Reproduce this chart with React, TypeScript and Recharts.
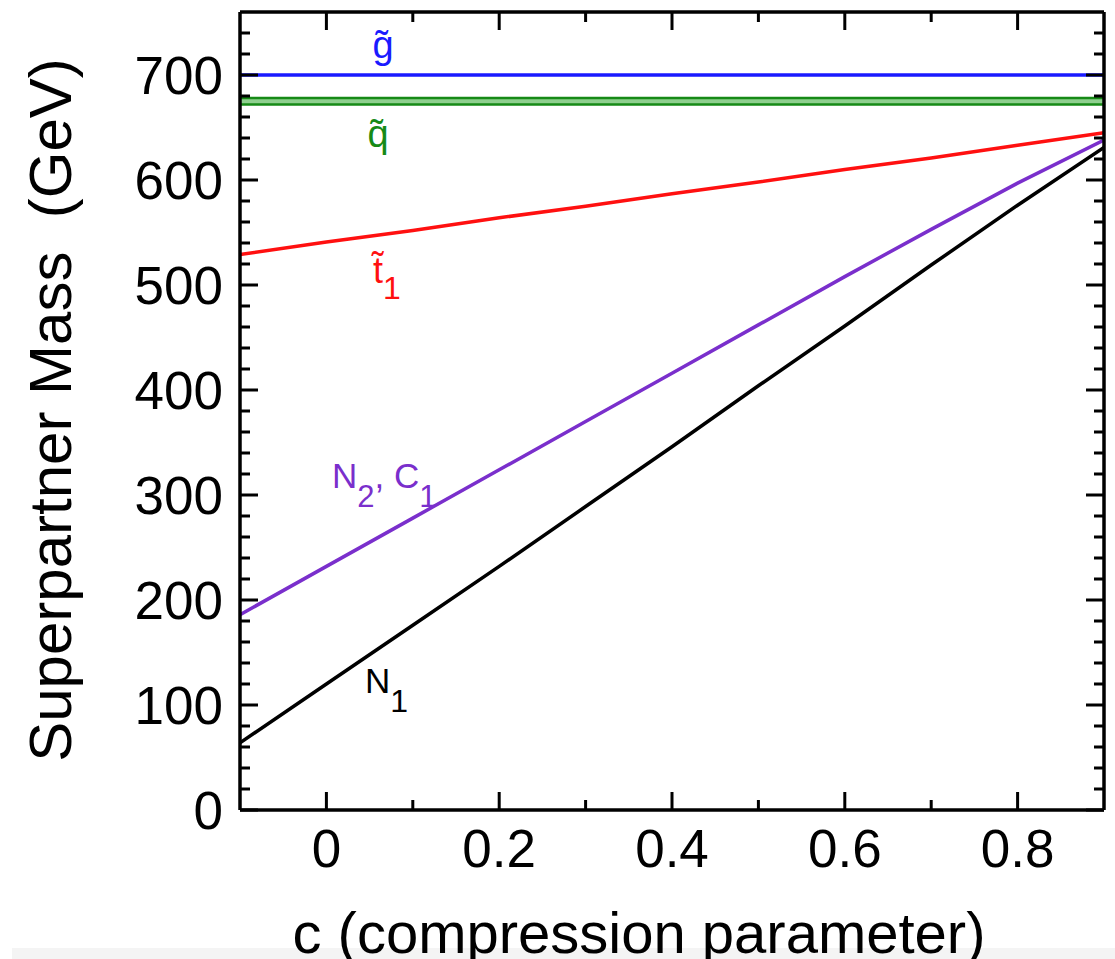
import { ComposedChart, Line, Area, XAxis, YAxis, ReferenceDot, Label } from "recharts";

// compression parameter c
const cValues = [-0.1, 0, 0.1, 0.2, 0.3, 0.4, 0.5, 0.6, 0.7, 0.8, 0.9];
// superpartner masses (GeV)
const gluino = [700, 700, 700, 700, 700, 700, 700, 700, 700, 700, 700];
const squarkLo = [672, 672, 672, 672, 672, 672, 672, 672, 672, 672, 672];
const squarkHi = [678, 678, 678, 678, 678, 678, 678, 678, 678, 678, 678];
const stop1 = [529, 541, 552, 564, 575, 587, 598, 610, 621, 633, 645];
const n2c1 = [186, 232, 278, 324, 370, 416, 462, 508, 553, 597, 638];
const n1 = [64, 120, 176, 232, 289, 346, 404, 461, 519, 576, 631];

const xMajor = [0, 0.2, 0.4, 0.6, 0.8];
const xMinor = [0.1, 0.3, 0.5, 0.7];
const yMajor = [0, 100, 200, 300, 400, 500, 600, 700];
const yMinor = [
  20, 40, 60, 80, 120, 140, 160, 180, 220, 240, 260, 280, 320, 340, 360, 380,
  420, 440, 460, 480, 520, 540, 560, 580, 620, 640, 660, 680, 720, 740,
];

// label anchors in data coordinates [c, mass]
const labelGluino = [0.0655, 716];
const labelSquark = [0.0597, 631];
const labelStop = [0.054, 502];
const labelN2C1 = [0.0065, 307];
const labelN1 = [0.0447, 111];

const data = cValues.map((c, i) => ({
  c,
  gluino: gluino[i],
  squark: [squarkLo[i], squarkHi[i]],
  squarkLo: squarkLo[i],
  squarkHi: squarkHi[i],
  stop1: stop1[i],
  n2c1: n2c1[i],
  n1: n1[i],
}));

const FONT = "'Liberation Sans', Arial, Helvetica, sans-serif";
const BLUE = "#1a1aff";
const GREEN = "#168a16";
const GREEN_FILL = "#8fd08f";
const RED = "#ff1010";
const PURPLE = "#7a2fcc";
const LW = 3.5;

const isIn = (arr: number[], v: number) => arr.some((m) => Math.abs(m - v) < 1e-9);

function XTick(props: any) {
  const { x, y, payload, side } = props;
  const major = isIn(xMajor, payload.value);
  const len = major ? 18 : 10;
  const dir = side === "bottom" ? -1 : 1;
  return (
    <g>
      <line x1={x} y1={y} x2={x} y2={y + dir * len} stroke="#000" strokeWidth={3} />
      {side === "bottom" && major && (
        <text x={x} y={y + 57} textAnchor="middle" fontSize={53} fontFamily={FONT} fill="#000">
          {String(payload.value)}
        </text>
      )}
    </g>
  );
}

function YTick(props: any) {
  const { x, y, payload, side } = props;
  const major = isIn(yMajor, payload.value);
  const len = major ? 18 : 10;
  const dir = side === "left" ? 1 : -1;
  return (
    <g>
      <line x1={x} y1={y} x2={x + dir * len} y2={y} stroke="#000" strokeWidth={3} />
      {side === "left" && major && (
        <text x={x - 17} y={y + 19} textAnchor="end" fontSize={53} fontFamily={FONT} fill="#000">
          {String(payload.value)}
        </text>
      )}
    </g>
  );
}

const xTicks = [...xMajor, ...xMinor].sort((a, b) => a - b);
const yTicks = [...yMajor, ...yMinor].sort((a, b) => a - b);

export default function App() {
  return (
    <div style={{ position: "absolute", left: 0, top: 0, width: 1115, height: 959, background: "#fff" }}>
      <div style={{ position: "absolute", left: 12, top: 948, width: 1103, height: 11, background: "#f4f4f4" }} />
      <ComposedChart
        width={1115}
        height={959}
        data={data}
        margin={{ top: 11, right: 10, bottom: 0, left: 0 }}
        style={{ position: "absolute", left: 0, top: 0 }}
      >
        <XAxis
          dataKey="c"
          type="number"
          domain={[-0.1, 0.9]}
          ticks={xTicks}
          interval={0}
          height={149}
          tickSize={0}
          tickMargin={0}
          tickLine={false}
          axisLine={{ stroke: "#000", strokeWidth: LW }}
          tick={(p: any) => <XTick {...p} side="bottom" />}
          allowDataOverflow
        >
          <Label
            content={() => (
              <text x={639} y={953} textAnchor="middle" fontSize={58} fontFamily={FONT} fill="#000">
                c (compression parameter)
              </text>
            )}
          />
        </XAxis>
        <XAxis
          xAxisId="top"
          orientation="top"
          dataKey="c"
          type="number"
          domain={[-0.1, 0.9]}
          ticks={xTicks}
          interval={0}
          height={1}
          tickSize={0}
          tickMargin={0}
          tickLine={false}
          axisLine={{ stroke: "#000", strokeWidth: LW }}
          tick={(p: any) => <XTick {...p} side="top" />}
          allowDataOverflow
        />
        <YAxis
          type="number"
          domain={[0, 760]}
          ticks={yTicks}
          interval={0}
          width={240}
          tickSize={0}
          tickMargin={0}
          tickLine={false}
          axisLine={{ stroke: "#000", strokeWidth: LW }}
          tick={(p: any) => <YTick {...p} side="left" />}
          allowDataOverflow
        >
          <Label
            content={() => (
              <text
                transform="translate(71,410) rotate(-90)"
                textAnchor="middle"
                fontSize={60}
                fontFamily={FONT}
                fill="#000"
                style={{ whiteSpace: "pre" }}
              >
                {"Superpartner Mass  (GeV)"}
              </text>
            )}
          />
        </YAxis>
        <YAxis
          yAxisId="right"
          orientation="right"
          type="number"
          domain={[0, 760]}
          ticks={yTicks}
          interval={0}
          width={1}
          tickSize={0}
          tickMargin={0}
          tickLine={false}
          axisLine={{ stroke: "#000", strokeWidth: LW }}
          tick={(p: any) => <YTick {...p} side="right" />}
          allowDataOverflow
        />

        <Area dataKey="squark" stroke="none" fill={GREEN_FILL} fillOpacity={1} isAnimationActive={false} />
        <Line dataKey="squarkLo" stroke={GREEN} strokeWidth={2.5} dot={false} isAnimationActive={false} />
        <Line dataKey="squarkHi" stroke={GREEN} strokeWidth={2.5} dot={false} isAnimationActive={false} />
        <Line dataKey="gluino" stroke={BLUE} strokeWidth={LW} dot={false} isAnimationActive={false} />
        <Line dataKey="stop1" stroke={RED} strokeWidth={LW} dot={false} isAnimationActive={false} />
        <Line dataKey="n2c1" stroke={PURPLE} strokeWidth={LW} dot={false} isAnimationActive={false} />
        <Line dataKey="n1" stroke="#000" strokeWidth={LW} dot={false} isAnimationActive={false} />

        <ReferenceDot
          x={labelGluino[0]}
          y={labelGluino[1]}
          r={0}
          ifOverflow="visible"
          shape={(p: any) => (
            <text x={p.cx} y={p.cy} textAnchor="middle" fontSize={38} fontFamily={FONT} fill={BLUE}>
              {"g\u0303"}
            </text>
          )}
        />
        <ReferenceDot
          x={labelSquark[0]}
          y={labelSquark[1]}
          r={0}
          ifOverflow="visible"
          shape={(p: any) => (
            <text x={p.cx} y={p.cy} textAnchor="middle" fontSize={38} fontFamily={FONT} fill={GREEN}>
              {"q\u0303"}
            </text>
          )}
        />
        <ReferenceDot
          x={labelStop[0]}
          y={labelStop[1]}
          r={0}
          ifOverflow="visible"
          shape={(p: any) => (
            <text x={p.cx} y={p.cy} fontSize={36} fontFamily={FONT} fill={RED}>
              <tspan>{"t\u0303"}</tspan>
              <tspan dy={16} fontSize={32}>1</tspan>
            </text>
          )}
        />
        <ReferenceDot
          x={labelN2C1[0]}
          y={labelN2C1[1]}
          r={0}
          ifOverflow="visible"
          shape={(p: any) => (
            <text x={p.cx} y={p.cy} fontSize={35} fontFamily={FONT} fill={PURPLE}>
              <tspan>N</tspan>
              <tspan dy={19} fontSize={31}>2</tspan>
              <tspan dy={-19}>, C</tspan>
              <tspan dy={19} fontSize={31}>1</tspan>
            </text>
          )}
        />
        <ReferenceDot
          x={labelN1[0]}
          y={labelN1[1]}
          r={0}
          ifOverflow="visible"
          shape={(p: any) => (
            <text x={p.cx} y={p.cy} fontSize={35} fontFamily={FONT} fill="#000">
              <tspan>N</tspan>
              <tspan dy={19} fontSize={32}>1</tspan>
            </text>
          )}
        />
      </ComposedChart>
    </div>
  );
}
